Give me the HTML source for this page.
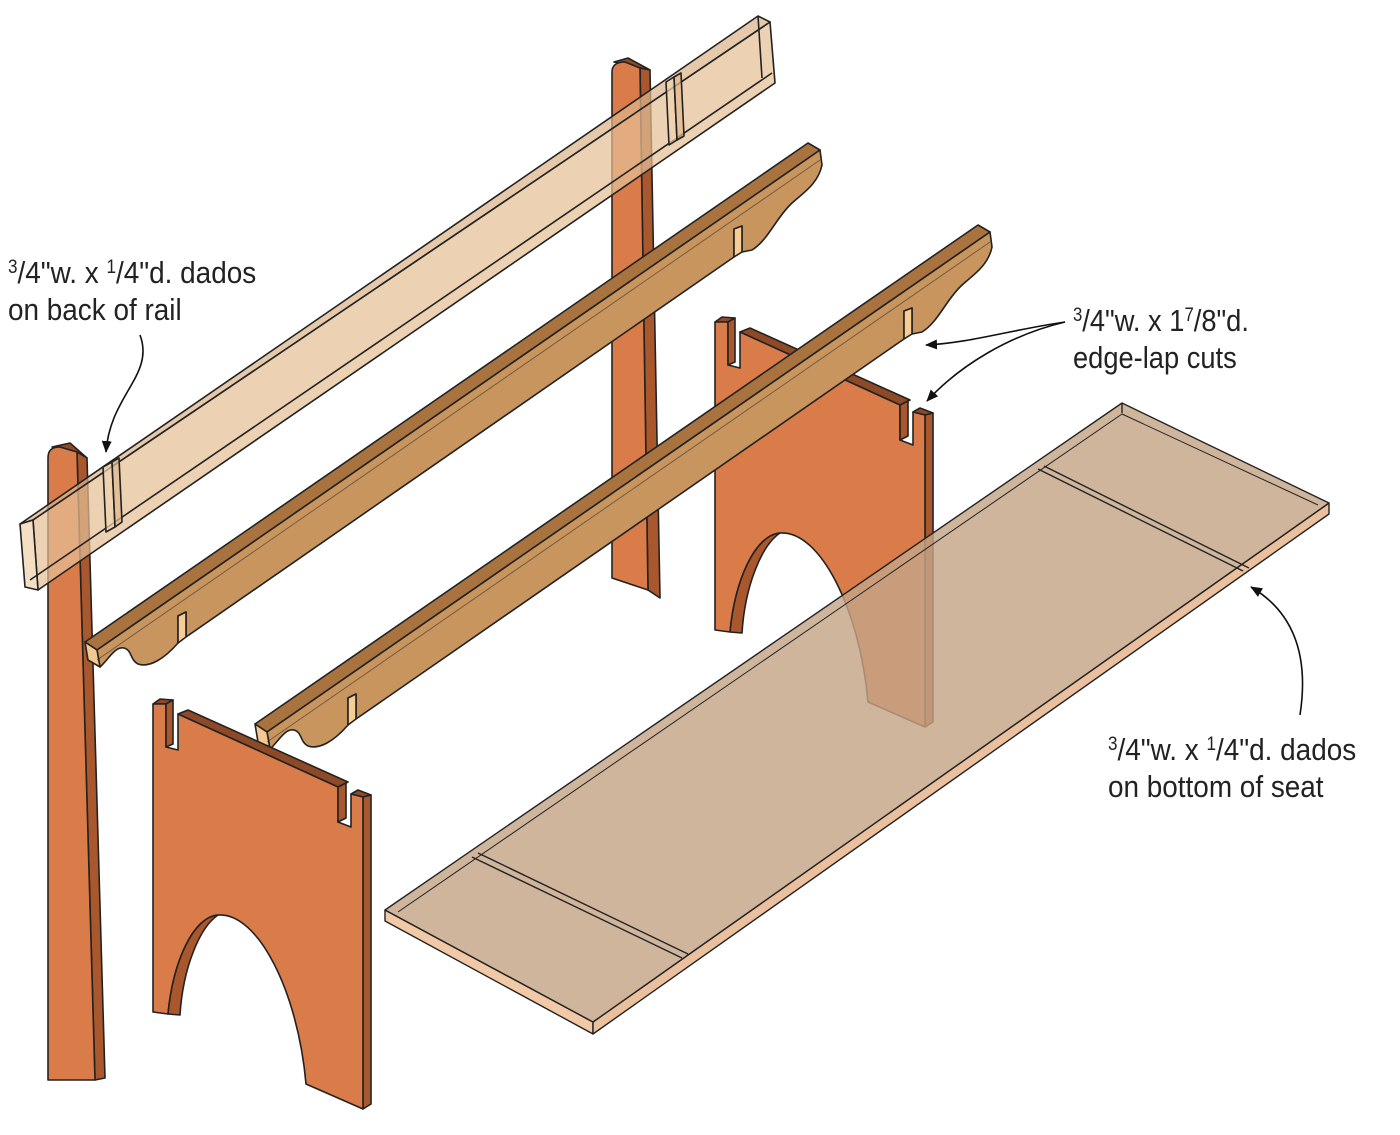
<!DOCTYPE html>
<html><head><meta charset="utf-8"><style>
html,body{margin:0;padding:0;background:#fff;}
svg{display:block;}
text{font-family:"Liberation Sans Narrow","Liberation Sans",sans-serif;fill:#222;}
</style></head><body>
<svg width="1400" height="1135" viewBox="0 0 1400 1135" xmlns="http://www.w3.org/2000/svg">
<defs>
<marker id="ah" markerWidth="12" markerHeight="10" refX="11" refY="5" orient="auto" markerUnits="userSpaceOnUse" viewBox="0 0 12 10">
<path d="M0,0 L12,5 L0,10 Z" fill="#111"/></marker>
<g id="rail" stroke="#222" stroke-width="1.6" stroke-linejoin="round">
<polygon points="85,642 808,143 820,150 97,650" fill="#a9733f"/>
<path d="M97,650 L820,150 L822,165 C818,185 800,195 790,205 C775,220 768,240 752,250 L742,252 L742,226 L734,229 L734,257 L186,637 L186,612 L178,616 L178,643 C165,658 150,668 138,664 C130,660 132,650 124,648 C115,646 108,660 100,667 Z" fill="#c8955e"/>
<polygon points="85,642 97,650 100,667 88,660" fill="#f4c890"/>
<polygon points="734,229 742,226 742,252 734,257" fill="#f7cd96"/>
<polygon points="178,616 186,612 186,637 178,643" fill="#f7cd96"/>
<line x1="97" y1="660" x2="820" y2="160" stroke-width="1" opacity=".5"/>
</g>
<g id="panel" stroke="#222" stroke-width="1.6" stroke-linejoin="round">
<polygon points="715,322 722,317 735,318 728,322" fill="#8e4a26"/>
<polygon points="740,332 750,328 910,400 900,405" fill="#8e4a26"/>
<polygon points="913,412 920,408 933,413 925,415" fill="#8e4a26"/>
<polygon points="925,415 933,413 933,722 925,727" fill="#a9582e"/>
<path d="M715,322 L728,322 L728,365 L740,368 L740,332 L900,405 L900,440 L913,445 L913,412 L925,415 L925,727 L868,702 C860,610 820,530 780,533 C755,535 735,580 730,632 L715,630 Z" fill="#d97c4a"/>
<polygon points="728,322 735,318 735,362 728,365" fill="#a9582e"/>
<polygon points="900,405 908,401 908,436 900,440" fill="#a9582e"/>
<path d="M730,632 C735,580 755,535 780,533 C762,545 745,585 742,633 Z" fill="#a9582e"/>
</g>
</defs>

<g stroke="#222" stroke-width="1.6" stroke-linejoin="round">
<polygon points="52,447 70,443 87,458 77,452" fill="#8e4a26"/>
<polygon points="77,452 87,458 105,1078 95,1080" fill="#a9582e"/>
<path d="M48,458 C48,450 52,447 60,447 L77,452 L95,1080 L48,1080 Z" fill="#d97c4a"/>
<polygon points="614,62 628,58 650,70 640,68" fill="#8e4a26"/>
<polygon points="640,68 650,70 660,598 648,590" fill="#a9582e"/>
<path d="M612,72 C612,64 618,62 625,62 L640,68 L648,590 L612,578 Z" fill="#d97c4a"/>
</g>

<g stroke="#222" stroke-width="1.6" stroke-linejoin="round" fill-opacity=".72">
<polygon points="20,524 758,16 770,22 33,520" fill="#dcb489"/>
<polygon points="33,520 770,22 775,83 38,590" fill="#e4bf96"/>
<polygon points="20,524 33,520 38,590 25,587" fill="#f0d2ae"/>
<line x1="30" y1="580" x2="772" y2="73" fill="none"/>
<line x1="758" y1="16" x2="762" y2="78" fill="none"/>
<polygon points="103,467 112,462 115,527 106,532" fill="#f0d2ae"/>
<polygon points="112,462 119,458 122,522 115,527" fill="#e2b98c"/>
<polygon points="666,82 674,77 677,140 669,145" fill="#f0d2ae"/>
<polygon points="674,77 681,73 684,136 677,140" fill="#e2b98c"/>
</g>

<use href="#rail"/>
<use href="#panel"/>
<use href="#rail" transform="translate(170,82)"/>
<use href="#panel" transform="translate(-562,382)"/>

<g stroke="#222" stroke-width="1.4" stroke-linejoin="round">
<polygon points="385,910 593,1022 593,1034 385,921" fill="#efc39d" fill-opacity=".9"/>
<polygon points="593,1022 1329,503 1329,514 593,1034" fill="#e8b993" fill-opacity=".9"/>
<polygon points="385,910 1122,403 1329,503 593,1022" fill="#c6a588" fill-opacity=".82"/>
<polyline points="398,912 1122,414 1318,505" fill="none" stroke-width="1"/>
<line x1="472" y1="857" x2="682" y2="958"/>
<line x1="478" y1="853" x2="688" y2="954"/>
<line x1="1038" y1="469" x2="1243" y2="571"/>
<line x1="1044" y1="466" x2="1249" y2="568"/>
<line x1="1122" y1="403" x2="1122" y2="413"/>
</g>

<g fill="none" stroke="#111" stroke-width="1.6">
<path d="M140,335 C155,375 110,395 106,452" marker-end="url(#ah)"/>
<path d="M1065,322 C1010,330 970,343 926,345" marker-end="url(#ah)"/>
<path d="M1065,322 C1010,335 960,365 927,401" marker-end="url(#ah)"/>
<path d="M1300,715 C1310,650 1290,610 1251,587" marker-end="url(#ah)"/>
</g>

<g transform="translate(8,0) scale(0.9,1)">
<text x="0" y="283" font-size="31"><tspan font-size="19" dy="-10">3</tspan><tspan dy="10">/4"w. x </tspan><tspan font-size="19" dy="-10">1</tspan><tspan dy="10">/4"d. dados</tspan></text>
<text x="0" y="320" font-size="31">on back of rail</text>
</g>
<g transform="translate(1073,0) scale(0.88,1)">
<text x="0" y="331" font-size="31"><tspan font-size="19" dy="-10">3</tspan><tspan dy="10">/4"w. x 1</tspan><tspan font-size="19" dy="-10">7</tspan><tspan dy="10">/8"d.</tspan></text>
<text x="0" y="368" font-size="31">edge-lap cuts</text>
</g>
<g transform="translate(1108,0) scale(0.9,1)">
<text x="0" y="760" font-size="31"><tspan font-size="19" dy="-10">3</tspan><tspan dy="10">/4"w. x </tspan><tspan font-size="19" dy="-10">1</tspan><tspan dy="10">/4"d. dados</tspan></text>
<text x="0" y="797" font-size="31">on bottom of seat</text>
</g>
</svg>
</body></html>
